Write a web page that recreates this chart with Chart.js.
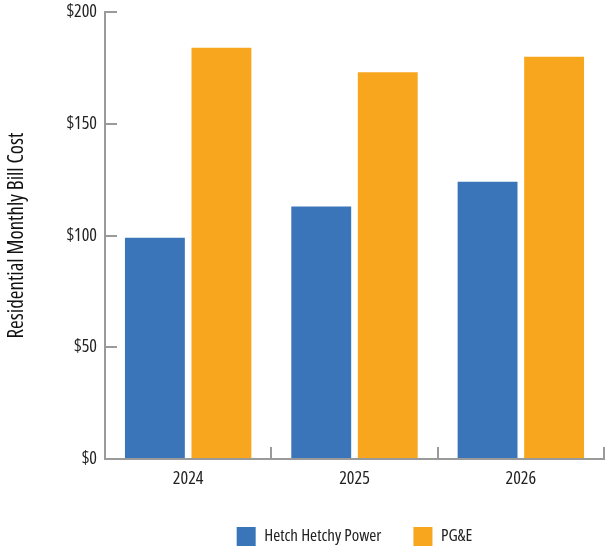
<!DOCTYPE html>
<html>
<head>
<meta charset="utf-8">
<script src="https://cdn.jsdelivr.net/npm/chart.js@4"></script>
<style>
  html, body { margin: 0; padding: 0; background: #fff; }
  #wrap { width: 605px; height: 550px; }
</style>
</head>
<body>
<div id="wrap"><canvas id="chart" width="605" height="550"></canvas></div>
<script>
const years = ['2024', '2025', '2026'];
const hetchHetchy = [99, 113, 124];
const pge = [184, 173, 180];
const yTicks = [0, 50, 100, 150, 200];

// narrow face, condensed width if the font has it
const FONT = '"Open Sans", "DejaVu Sans Condensed", sans-serif';
const NARROW = '400 condensed';
const axisGray = '#9a9a9a';

new Chart(document.getElementById('chart'), {
    type: 'bar',
    data: {
        labels: years,
        datasets: [
            { label: 'Hetch Hetchy Power', data: hetchHetchy, backgroundColor: '#3a75ba' },
            { label: 'PG&E', data: pge, backgroundColor: '#f8a61e' }
        ]
    },
    options: {
        responsive: false,
        animation: false,
        categoryPercentage: 0.8,
        barPercentage: 0.9,
        layout: { padding: { top: 0, right: 1, left: 0, bottom: -6 } },
        plugins: {
            legend: {
                position: 'bottom',
                fullSize: false,
                labels: {
                    boxWidth: 19, boxHeight: 19, padding: 32,
                    color: '#222', font: { family: FONT, size: 17, weight: NARROW }
                }
            },
            tooltip: { enabled: false }
        },
        scales: {
            x: {
                afterFit: s => { s.height = 36; },
                grid: { drawOnChartArea: false, tickLength: -12, color: axisGray, lineWidth: 2 },
                border: { color: axisGray, width: 2 },
                ticks: { padding: 21, color: '#222', font: { family: FONT, size: 18, weight: NARROW } }
            },
            y: {
                min: 0, max: 200,
                afterBuildTicks: s => { s.ticks = yTicks.map(v => ({ value: v })); },
                afterFit: s => { s.width = 105; s.paddingTop = 12; s.paddingBottom = 0; },
                grid: { drawOnChartArea: false, tickLength: -12, color: axisGray, lineWidth: 2 },
                border: { color: axisGray, width: 2 },
                title: {
                    display: true, text: 'Residential Monthly Bill Cost',
                    color: '#111', font: { family: FONT, size: 21, weight: NARROW }, padding: { top: 4, bottom: 10 }
                },
                ticks: {
                    padding: 20, color: '#222', font: { family: FONT, size: 18, weight: NARROW },
                    callback: v => '$' + v
                }
            }
        }
    }
});
</script>
</body>
</html>
